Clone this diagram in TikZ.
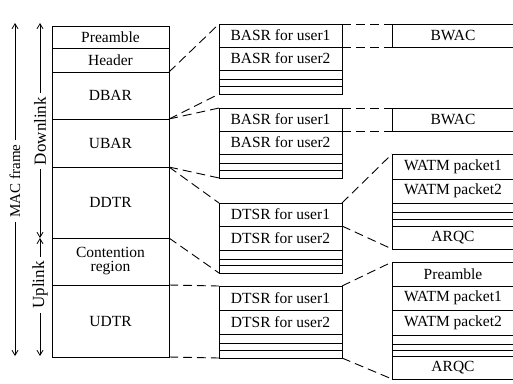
\documentclass[tikz,border=0pt]{standalone}
\usepackage{fontspec}
\setmainfont{Liberation Serif}
\usetikzlibrary{arrows.meta}
\newcommand\cellnode[6]{\node[cell, minimum width=#4pt, minimum height=#5pt] (#1) at (#2,#3) {#6};}
\begin{document}
\begin{tikzpicture}[x=1pt,y=-1pt,
  cell/.style={draw, line width=0.9pt, inner sep=0pt, outer sep=0pt, anchor=north west,
    font=\fontsize{15.5}{16}\selectfont, align=center},
  conn/.style={line width=0.9pt, dash pattern=on 9pt off 5pt},
  side/.style={rotate=90, inner sep=4pt},
  sarrow/.style={line width=0.8pt, -{Straight Barb[length=5pt,width=6pt]}}]
\useasboundingbox (0,0) rectangle (513,383);
\clip (0,0) rectangle (513,383);
% main column
\cellnode{pre}{52}{26}{117}{22}{Preamble}
\cellnode{hdr}{52}{48}{117}{24}{Header}
\cellnode{dbar}{52}{72}{117}{47}{DBAR}
\cellnode{ubar}{52}{119}{117}{48}{UBAR}
\cellnode{ddtr}{52}{167}{117}{71}{DDTR}
\cellnode{cont}{52}{238}{117}{47}{Contention\\[-2pt]region}
\cellnode{udtr}{52}{285}{117}{72}{UDTR}
% BASR group A
\cellnode{a1}{219}{24}{123}{23}{BASR for user1}
\cellnode{a2}{219}{47}{123}{23}{BASR for user2}
\cellnode{a3}{219}{70}{123}{9}{}
\cellnode{a4}{219}{79}{123}{7}{}
\cellnode{a5}{219}{86}{123}{8}{}
% BASR group B
\cellnode{b1}{219}{108}{123}{23}{BASR for user1}
\cellnode{b2}{219}{131}{123}{23}{BASR for user2}
\cellnode{b3}{219}{154}{123}{9}{}
\cellnode{b4}{219}{163}{123}{7}{}
\cellnode{b5}{219}{170}{123}{8}{}
% DTSR group C
\cellnode{c1}{219}{203}{123}{23}{DTSR for user1}
\cellnode{c2}{219}{226}{123}{24}{DTSR for user2}
\cellnode{c3}{219}{250}{123}{9}{}
\cellnode{c4}{219}{259}{123}{6}{}
\cellnode{c5}{219}{265}{123}{8}{}
% DTSR group D
\cellnode{d1}{219}{286}{123}{24}{DTSR for user1}
\cellnode{d2}{219}{310}{123}{24}{DTSR for user2}
\cellnode{d3}{219}{334}{123}{9}{}
\cellnode{d4}{219}{343}{123}{7}{}
\cellnode{d5}{219}{350}{123}{8}{}
% BWAC
\cellnode{w1}{392}{24}{122}{23}{BWAC}
\cellnode{w2}{392}{108}{122}{23}{BWAC}
% WATM group E
\cellnode{e1}{392}{154}{122}{25}{WATM packet1}
\cellnode{e2}{392}{179}{122}{24}{WATM packet2}
\cellnode{e3}{392}{203}{122}{9}{}
\cellnode{e4}{392}{212}{122}{7}{}
\cellnode{e5}{392}{219}{122}{7}{}
\cellnode{e6}{392}{226}{122}{23}{ARQC}
% group F
\cellnode{f1}{392}{262}{122}{24}{Preamble}
\cellnode{f2}{392}{286}{122}{24}{WATM packet1}
\cellnode{f3}{392}{310}{122}{25}{WATM packet2}
\cellnode{f4}{392}{335}{122}{9}{}
\cellnode{f5}{392}{344}{122}{6}{}
\cellnode{f6}{392}{350}{122}{6}{}
\cellnode{f7}{392}{356}{122}{23}{ARQC}
% connectors
\draw[conn] (hdr.south east) -- (a1.north west);
\draw[conn] (dbar.south east) -- (a5.south west);
\draw[conn] (dbar.south east) -- (b1.north west);
\draw[conn] (ubar.south east) -- (b5.south west);
\draw[conn] (ubar.south east) -- (c1.north west);
\draw[conn] (ddtr.south east) -- (c5.south west);
\draw[conn] (cont.south east) -- (d1.north west);
\draw[conn] (udtr.south east) -- (d5.south west);
\draw[conn] (a1.north east) -- (w1.north west);
\draw[conn] (a1.south east) -- (w1.south west);
\draw[conn] (b1.north east) -- (w2.north west);
\draw[conn] (b1.south east) -- (w2.south west);
\draw[conn] (c1.north east) -- (e1.north west);
\draw[conn] (c1.south east) -- (e6.south west);
\draw[conn] (d1.north east) -- (f1.north west);
\draw[conn] (d5.south east) -- (f7.south west);
% side labels
\coordinate (macT) at (15,23);
\coordinate (macB) at (15,356);
\node[side, font=\fontsize{15}{16}\selectfont] (mac) at (15,181) {MAC frame};
\draw[sarrow] (mac.east) -- (macT);
\draw[sarrow] (mac.west) -- (macB);
\coordinate (dT) at (40,23);
\coordinate (mid) at (40,238);
\coordinate (uB) at (40,356);
\node[side, font=\fontsize{17}{18}\selectfont] (dl) at (40,131) {Downlink};
\node[side, font=\fontsize{17}{18}\selectfont] (ul) at (40,285) {Uplink};
\draw[sarrow] (dl.east) -- (dT);
\draw[sarrow] (dl.west) -- (mid);
\draw[sarrow] (ul.east) -- (mid);
\draw[sarrow] (ul.west) -- (uB);
\end{tikzpicture}
\end{document}
